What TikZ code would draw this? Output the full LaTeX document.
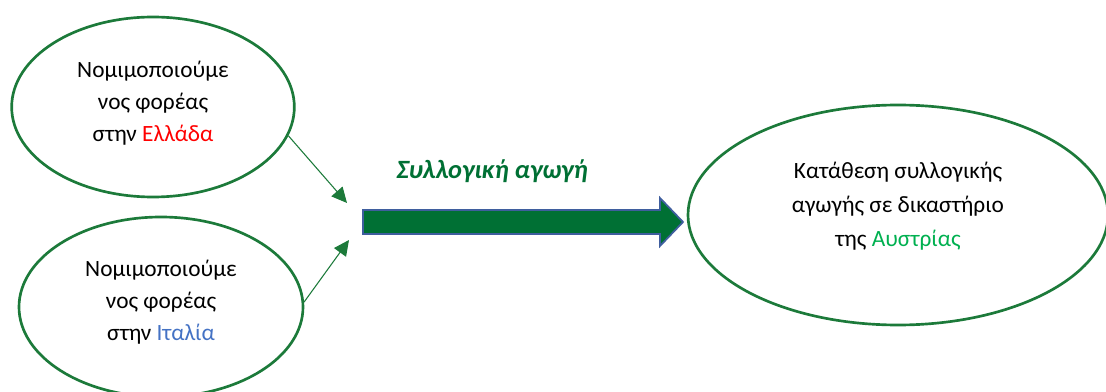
\documentclass[tikz,border=0pt]{standalone}
\usepackage{fontspec}
\setmainfont{Carlito}
\usetikzlibrary{shapes.geometric,arrows.meta}

\definecolor{bordergreen}{HTML}{1C7A3A}
\definecolor{arrowgreen}{HTML}{007034}
\definecolor{arrowblue}{HTML}{3F5E9E}
\definecolor{grred}{HTML}{FF0000}
\definecolor{itblue}{HTML}{4472C4}
\definecolor{atgreen}{HTML}{00B050}

\begin{document}
\begin{tikzpicture}[
    x=0.75pt, y=-0.75pt,
    party/.style={ellipse, draw=bordergreen, line width=2pt, align=center,
                  font={\fontsize{17.5}{24}\selectfont}, inner sep=0pt},
    feed/.style={bordergreen, line width=0.8pt, -{Triangle[length=11.5pt,width=11pt]}},
    bigarrow/.style={fill=arrowgreen, draw=arrowblue, line width=1.3pt, line join=miter},
    caption/.style={font={\fontsize{19.8}{22}\selectfont\bfseries\itshape}, text=arrowgreen}]

    \useasboundingbox (0,0) rectangle (1106,392);
    \clip (0,0) rectangle (1106,392);

    \node[party, minimum width=212pt, minimum height=135pt, text depth=8pt] (gr) at (153,107)
        {Νομιμοποιούμε\\νος φορέας\\στην \textcolor{grred}{Ελλάδα}};
    \node[party, minimum width=213pt, minimum height=135pt, text depth=9.5pt] (it) at (161,307)
        {Νομιμοποιούμε\\νος φορέας\\στην \textcolor{itblue}{Ιταλία}};
    \node[party, minimum width=315pt, minimum height=165pt, text depth=16pt,
          font={\fontsize{17.5}{25.5}\selectfont}] (at) at (898,215)
        {Κατάθεση συλλογικής\\αγωγής σε δικαστήριο\\της \textcolor{atgreen}{Αυστρίας}};

    \coordinate (joinA) at (347,203);
    \coordinate (joinB) at (349,240);
    \draw[feed] (gr.-12) -- (joinA);
    \draw[feed] (it.2) -- (joinB);

    % big arrow
    \coordinate (tail) at (363,222);
    \draw[bigarrow] (363,210) -- (660,210) -- (660,198) -- (683,222)
                    -- (660,246) -- (660,234) -- (363,234) -- cycle;

    \node[caption] (act) at (492,171) {Συλλογική αγωγή};

\end{tikzpicture}
\end{document}
